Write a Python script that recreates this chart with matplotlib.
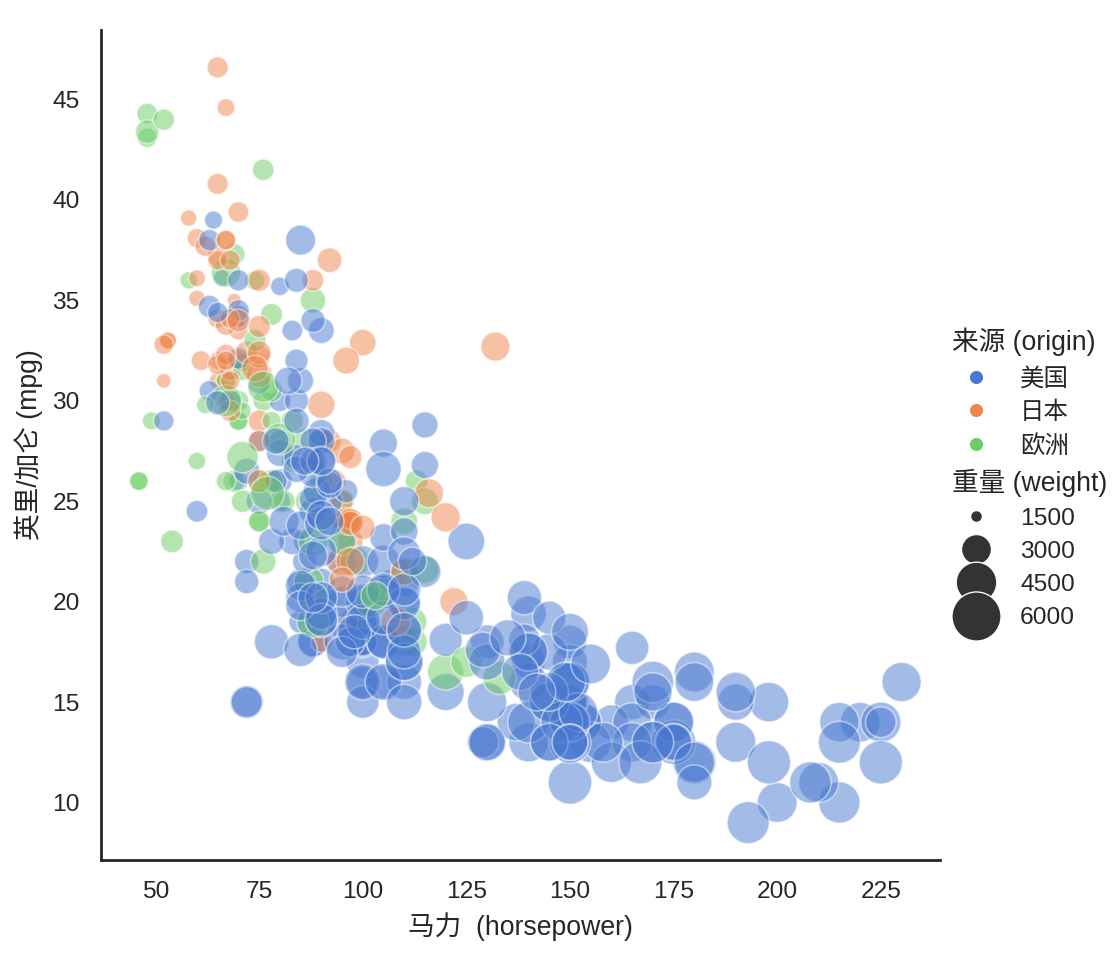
import numpy as np
import pandas as pd
import matplotlib
matplotlib.use("Agg")
import matplotlib.pyplot as plt
from matplotlib.lines import Line2D
from matplotlib.offsetbox import VPacker
import seaborn as sns

# auto-mpg rows that have a horsepower value, in file order (20 per line)
mpg = [
    18, 15, 18, 16, 17, 15, 14, 14, 14, 15, 15, 14, 15, 14, 24, 22, 18, 21, 27, 26,
    25, 24, 25, 26, 21, 10, 10, 11, 9, 27, 28, 25, 19, 16, 17, 19, 18, 14, 14, 14,
    14, 12, 13, 13, 18, 22, 19, 18, 23, 28, 30, 30, 31, 35, 27, 26, 24, 25, 23, 20,
    21, 13, 14, 15, 14, 17, 11, 13, 12, 13, 19, 15, 13, 13, 14, 18, 22, 21, 26, 22,
    28, 23, 28, 27, 13, 14, 13, 14, 15, 12, 13, 13, 14, 13, 12, 13, 18, 16, 18, 18,
    23, 26, 11, 12, 13, 12, 18, 20, 21, 22, 18, 19, 21, 26, 15, 16, 29, 24, 20, 19,
    15, 24, 20, 11, 20, 19, 15, 31, 26, 32, 25, 16, 16, 18, 16, 13, 14, 14, 14, 29,
    26, 26, 31, 32, 28, 24, 26, 24, 26, 31, 19, 18, 15, 15, 16, 15, 16, 14, 17, 16,
    15, 18, 21, 20, 13, 29, 23, 20, 23, 24, 25, 24, 18, 29, 19, 23, 23, 22, 25, 33,
    28, 25, 25, 26, 27, 17.5, 16, 15.5, 14.5, 22, 22, 24, 22.5, 29, 24.5, 29, 33, 20, 18, 18.5,
    17.5, 29.5, 32, 28, 26.5, 20, 13, 19, 19, 16.5, 16.5, 13, 13, 13, 31.5, 30, 36, 25.5, 33.5, 17.5,
    17, 15.5, 15, 17.5, 20.5, 19, 18.5, 16, 15.5, 15.5, 16, 29, 24.5, 26, 25.5, 30.5, 33.5, 30, 30.5, 22,
    21.5, 21.5, 43.1, 36.1, 32.8, 39.4, 36.1, 19.9, 19.4, 20.2, 19.2, 20.5, 20.2, 25.1, 20.5, 19.4, 20.6, 20.8, 18.6, 18.1,
    19.2, 17.7, 18.1, 17.5, 30, 27.5, 27.2, 30.9, 21.1, 23.2, 23.8, 23.9, 20.3, 17, 21.6, 16.2, 31.5, 29.5, 21.5, 19.8,
    22.3, 20.2, 20.6, 17, 17.6, 16.5, 18.2, 16.9, 15.5, 19.2, 18.5, 31.9, 34.1, 35.7, 27.4, 25.4, 23, 27.2, 23.9, 34.2,
    34.5, 31.8, 37.3, 28.4, 28.8, 26.8, 33.5, 41.5, 38.1, 32.1, 37.2, 28, 26.4, 24.3, 19.1, 34.3, 29.8, 31.3, 37, 32.2,
    46.6, 27.9, 40.8, 44.3, 43.4, 36.4, 30, 44.6, 33.8, 29.8, 32.7, 23.7, 35, 32.4, 27.2, 26.6, 25.8, 23.5, 30, 39.1,
    39, 35.1, 32.3, 37, 37.7, 34.1, 34.7, 34.4, 29.9, 33, 33.7, 32.4, 32.9, 31.6, 28.1, 30.7, 25.4, 24.2, 22.4, 26.6,
    20.2, 17.6, 28, 27, 34, 31, 29, 27, 24, 36, 37, 31, 38, 36, 36, 36, 34, 38, 32, 38,
    25, 38, 26, 22, 32, 36, 27, 27, 44, 32, 28, 31,
]
horsepower = [
    130, 165, 150, 150, 140, 198, 220, 215, 225, 190, 170, 160, 150, 225, 95, 95, 97, 85, 88, 46,
    87, 90, 95, 113, 90, 215, 200, 210, 193, 88, 90, 95, 100, 105, 100, 88, 100, 165, 175, 153,
    150, 180, 170, 175, 110, 72, 100, 88, 86, 90, 70, 76, 65, 69, 60, 70, 95, 80, 54, 90,
    86, 165, 175, 150, 153, 150, 208, 155, 160, 190, 97, 150, 130, 140, 150, 112, 76, 87, 69, 86,
    92, 97, 80, 88, 175, 150, 145, 137, 150, 198, 150, 158, 150, 215, 225, 175, 105, 100, 100, 88,
    95, 46, 150, 167, 170, 180, 100, 88, 72, 94, 90, 85, 107, 90, 145, 230, 49, 75, 91, 112,
    150, 110, 122, 180, 95, 100, 100, 67, 80, 65, 75, 100, 110, 105, 140, 150, 150, 140, 150, 83,
    67, 78, 52, 61, 75, 75, 75, 97, 93, 67, 95, 105, 72, 72, 170, 145, 150, 148, 110, 105,
    110, 95, 110, 110, 129, 75, 83, 100, 78, 96, 71, 97, 97, 70, 90, 95, 88, 98, 115, 53,
    86, 81, 92, 79, 83, 140, 150, 120, 152, 100, 105, 81, 90, 52, 60, 70, 53, 100, 78, 110,
    95, 71, 70, 75, 72, 102, 150, 88, 108, 120, 180, 145, 130, 150, 68, 80, 58, 96, 70, 145,
    110, 145, 130, 110, 105, 100, 98, 180, 170, 190, 149, 78, 88, 75, 89, 63, 83, 67, 78, 97,
    110, 110, 48, 66, 52, 70, 60, 110, 140, 139, 105, 95, 85, 88, 100, 90, 105, 85, 110, 120,
    145, 165, 139, 140, 68, 95, 97, 75, 95, 105, 85, 97, 103, 125, 115, 133, 71, 68, 115, 85,
    88, 90, 110, 130, 129, 138, 135, 155, 142, 125, 150, 71, 65, 80, 80, 77, 125, 71, 90, 70,
    70, 65, 69, 90, 115, 115, 90, 76, 60, 70, 65, 90, 88, 90, 90, 78, 90, 75, 92, 75,
    65, 105, 65, 48, 48, 67, 67, 67, 67, 62, 132, 100, 88, 72, 84, 84, 92, 110, 84, 58,
    64, 60, 67, 65, 62, 68, 63, 65, 65, 74, 75, 75, 100, 74, 80, 76, 116, 120, 110, 105,
    88, 85, 88, 88, 88, 85, 84, 90, 92, 74, 68, 68, 63, 70, 88, 75, 70, 67, 67, 67,
    110, 85, 92, 112, 96, 84, 90, 86, 52, 84, 79, 82,
]
weight = [
    3504, 3693, 3436, 3433, 3449, 4341, 4354, 4312, 4425, 3850, 3563, 3609, 3761, 3086, 2372, 2833, 2774, 2587, 2130, 1835,
    2672, 2430, 2375, 2234, 2648, 4615, 4376, 4382, 4732, 2130, 2264, 2228, 2634, 3439, 3329, 3302, 3288, 4209, 4464, 4154,
    4096, 4955, 4746, 5140, 2962, 2408, 3282, 3139, 2220, 2123, 2074, 2065, 1773, 1613, 1834, 1955, 2278, 2126, 2254, 2408,
    2226, 4274, 4385, 4135, 4129, 3672, 4633, 4502, 4456, 4422, 2330, 3892, 4098, 4294, 4077, 2933, 2511, 2979, 2189, 2395,
    2288, 2506, 2164, 2100, 4100, 3672, 3988, 4042, 3777, 4952, 4464, 4363, 4237, 4735, 4951, 3821, 3121, 3278, 2945, 3021,
    2904, 1950, 4997, 4906, 4654, 4499, 2789, 2279, 2401, 2379, 2124, 2310, 2472, 2265, 4082, 4278, 1867, 2158, 2582, 2868,
    3399, 2660, 2807, 3664, 3102, 2901, 3336, 1950, 2451, 1836, 2542, 3781, 3632, 3613, 4141, 4699, 4457, 4638, 4257, 2219,
    1963, 2300, 1649, 2003, 2125, 2108, 2246, 2489, 2391, 2000, 3264, 3459, 3432, 3158, 4668, 4440, 4498, 4657, 3907, 3897,
    3730, 3785, 3039, 3221, 3169, 2171, 2639, 2914, 2592, 2702, 2223, 2545, 2984, 1937, 3211, 2694, 2957, 2945, 2671, 1795,
    2464, 2220, 2572, 2255, 2202, 4215, 4190, 3962, 4215, 3233, 3353, 3012, 3085, 2035, 2164, 1937, 1795, 3651, 3574, 3645,
    3193, 1825, 1990, 2155, 2565, 3150, 3940, 3270, 2930, 3820, 4380, 4055, 3870, 3755, 2045, 2155, 1825, 2300, 1945, 3880,
    4060, 4140, 4295, 3520, 3425, 3630, 3525, 4220, 4165, 4325, 4335, 1940, 2740, 2265, 2755, 2051, 2075, 1985, 2190, 2815,
    2600, 2720, 1985, 1800, 1985, 2070, 1800, 3365, 3735, 3570, 3535, 3155, 2965, 2720, 3430, 3210, 3380, 3070, 3620, 3410,
    3425, 3445, 3205, 4080, 2155, 2560, 2300, 2230, 2515, 2745, 2855, 2405, 2830, 3140, 2795, 3410, 1990, 2135, 3245, 2990,
    2890, 3265, 3360, 3840, 3725, 3955, 3830, 4360, 4054, 3605, 3940, 1925, 1975, 1915, 2670, 3530, 3900, 3190, 3420, 2200,
    2150, 2020, 2130, 2670, 2595, 2700, 2556, 2144, 1968, 2120, 2019, 2678, 2870, 3003, 3381, 2188, 2711, 2542, 2434, 2265,
    2110, 2800, 2110, 2085, 2335, 2950, 3250, 1850, 2145, 1845, 2910, 2420, 2500, 2290, 2490, 2635, 2620, 2725, 2385, 1755,
    1875, 1760, 2065, 1975, 2050, 1985, 2215, 2045, 2380, 2190, 2210, 2350, 2615, 2635, 3230, 3160, 2900, 2930, 3415, 3725,
    3060, 3465, 2605, 2640, 2395, 2575, 2525, 2735, 2865, 1980, 2025, 1970, 2125, 2125, 2160, 2205, 2245, 1965, 1965, 1995,
    2945, 3015, 2585, 2835, 2665, 2370, 2950, 2790, 2130, 2295, 2625, 2720,
]
# u = usa, j = japan, e = europe (20 per line, same rows as above)
origin_code = (
    "uuuuuuuuuuuuuujuuuje"
    "eeeeuuuuujujuuuuuuuu"
    "uuuuuuuuueeejjeujueu"
    "uuuuuuuuuujuuuueeeeu"
    "jjujuuuuuuuuuuuuuuuu"
    "ueuuuuujujjuueuueeee"
    "uejuuuujujuuuuuuuuue"
    "eejjueejjeuuuuuuuuuu"
    "uuuuujuuujejueueeeej"
    "eeuueuuuuuuuuuuejuuu"
    "uejjueuejeuuuujueuju"
    "uuuuuuuuuuueujuuujej"
    "ejeujjjuuuuuuuuuuuuu"
    "uuuuujjujuujeeeeejuu"
    "uuuuuuuuuuuejuueueuu"
    "ujeuuuuejujuuuuejjjj"
    "jujeeeejjejjejuuuuuj"
    "ujjjjjuuuejjjjeejjuu"
    "uuuuuuuuuejjuujjjjjj"
    "uuuujuuueuuu"
)
origin_names = {"u": "美国", "j": "日本", "e": "欧洲"}
hue_order = ["美国", "日本", "欧洲"]
size_levels = [1500, 3000, 4500, 6000]

sns.set_theme(style="white")
plt.rcParams["font.family"] = ["Liberation Sans", "Noto Sans CJK SC", "DejaVu Sans"]

df = pd.DataFrame({
    "horsepower": horsepower,
    "mpg": mpg,
    "weight": weight,
    "origin": [origin_names[c] for c in origin_code],
})

palette = dict(zip(hue_order, sns.color_palette("muted", 3)))
size_range = (40, 400)

fig = plt.figure(figsize=(7.0, 957 / 160), dpi=160)
ax = fig.add_axes([0.090, 0.101, 0.749, 0.868])
sns.scatterplot(data=df, x="horsepower", y="mpg", hue="origin", size="weight",
                hue_order=hue_order, palette=palette, sizes=size_range,
                alpha=0.5, legend=False, ax=ax)
sns.despine(ax=ax)
ax.set_xticks([50, 75, 100, 125, 150, 175, 200, 225])
ax.set_yticks([10, 15, 20, 25, 30, 35, 40, 45])
ax.set_xlabel("马力  (horsepower)")
ax.set_ylabel("英里/加仑 (mpg)")

# legend built by hand, same linear size scale as the scatter
wmin, wmax = df["weight"].min(), df["weight"].max()


def size_of(w):
    return size_range[0] + (w - wmin) / (wmax - wmin) * (size_range[1] - size_range[0])


handles = [Line2D([], [], linestyle="", marker="", visible=False)]
labels = ["来源 (origin)"]
for name in hue_order:
    handles.append(Line2D([], [], linestyle="", marker="o", markersize=6.5,
                          markerfacecolor=palette[name], markeredgecolor="w",
                          markeredgewidth=0.6))
    labels.append(name)
handles.append(Line2D([], [], linestyle="", marker="", visible=False))
labels.append("重量 (weight)")
for lv in size_levels:
    handles.append(Line2D([], [], linestyle="", marker="o",
                          markersize=np.sqrt(max(size_of(lv), 1)),
                          markerfacecolor=".2", markeredgecolor="w",
                          markeredgewidth=0.6))
    labels.append(str(lv))

leg = fig.legend(handles, labels, loc="center left", bbox_to_anchor=(0.830, 0.5),
                 frameon=False, fontsize=11, labelspacing=0.45,
                 handletextpad=0.8)
# subtitles start at the left edge of the column
hpackers = leg.findobj(VPacker)[0].get_children()
for hpack in hpackers:
    draw_area, text_area = hpack.get_children()
    if not all(a.get_visible() for a in draw_area.get_children()):
        draw_area.set_width(-0.8 * 11)
        for t in text_area.get_children():
            t.set_size(12)

fig.savefig("out.png", dpi=160)
